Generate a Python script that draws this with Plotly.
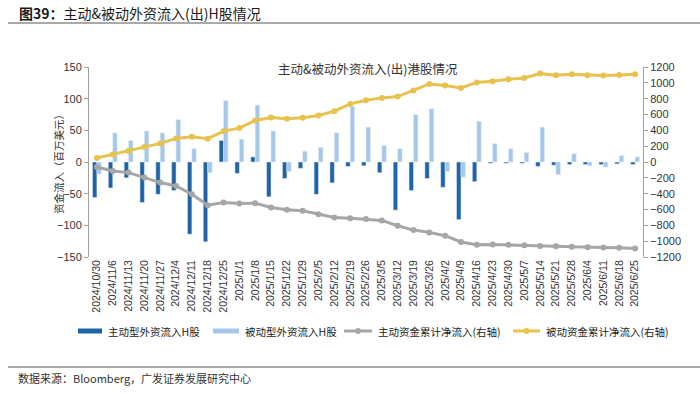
import plotly.graph_objects as go

dates = ["2024/10/30","2024/11/6","2024/11/13","2024/11/20","2024/11/27","2024/12/4","2024/12/11",
         "2024/12/18","2024/12/25","2025/1/1","2025/1/8","2025/1/15","2025/1/22","2025/1/29","2025/2/5",
         "2025/2/12","2025/2/19","2025/2/26","2025/3/5","2025/3/12","2025/3/19","2025/3/26","2025/4/2",
         "2025/4/9","2025/4/16","2025/4/23","2025/4/30","2025/5/7","2025/5/14","2025/5/21","2025/5/28",
         "2025/6/4","2025/6/11","2025/6/18","2025/6/25"]

active_flow = [-56,-41,-25,-64,-51,-45,-114,-126,34,-18,8,-55,-26,-10,-51,-33,-7,-6,-17,-76,-45,-26,-40,
               -91,-31,-2,-2,-2,-7,-5,-4,-4,-4,-3,-4]
passive_flow = [-19,46,34,49,46,67,21,-17,97,36,90,49,-15,17,23,46,88,55,26,21,75,84,-15,-24,64,29,21,15,
                55,-20,13,-6,-8,10,8]
active_cum = [-63,-113,-134,-197,-260,-302,-407,-545,-512,-524,-520,-575,-604,-617,-659,-700,-709,-721,
              -738,-805,-860,-889,-931,-1010,-1045,-1042,-1045,-1050,-1060,-1063,-1070,-1078,-1080,-1084,-1092]
passive_cum = [50,96,138,189,235,298,319,294,390,428,524,562,545,558,587,642,734,780,810,826,902,986,965,
               935,1005,1020,1045,1062,1117,1097,1109,1097,1092,1100,1109]

names = ["主动型外资流入H股", "被动型外资流入H股", "主动资金累计净流入(右轴)", "被动资金累计净流入(右轴)"]
left_ticks = [-150, -100, -50, 0, 50, 100, 150]
right_ticks = [-1200, -1000, -800, -600, -400, -200, 0, 200, 400, 600, 800, 1000, 1200]

C_DARK = "#1F64A6"
C_LIGHT = "#A4C7EA"
C_GRAY = "#A6A6A6"
C_GOLD = "#E8C24E"

W, H = 700, 394
L, R, T, B = 89, 57, 67, 137
PW, PH = W - L - R, H - T - B


def px(x):
    return (x - L) / PW


def py(y):
    return (H - B - y) / PH


fig = go.Figure()
fig.add_trace(go.Bar(x=dates, y=active_flow, name=names[0], marker_color=C_DARK, showlegend=False))
fig.add_trace(go.Bar(x=dates, y=passive_flow, name=names[1], marker_color=C_LIGHT, showlegend=False))
fig.add_trace(go.Scatter(x=dates, y=active_cum, name=names[2], yaxis="y2", mode="lines+markers",
                         line=dict(color=C_GRAY, width=3), marker=dict(size=6, color=C_GRAY),
                         showlegend=False))
fig.add_trace(go.Scatter(x=dates, y=passive_cum, name=names[3], yaxis="y2", mode="lines+markers",
                         line=dict(color=C_GOLD, width=3), marker=dict(size=6, color=C_GOLD),
                         showlegend=False))

tickfont = dict(family="Liberation Sans, Arial, sans-serif", size=11, color="#333333")
cjk = "Noto Sans CJK SC, sans-serif"

fig.update_layout(
    width=W, height=H,
    margin=dict(l=L, r=R, t=T, b=B),
    paper_bgcolor="white", plot_bgcolor="white",
    barmode="group", bargap=0.44, bargroupgap=0.0,
    xaxis=dict(type="category", tickangle=-90, tickfont=dict(family="Liberation Sans, Arial, sans-serif",
               size=10.5, color="#333333"), showline=False, showgrid=False, ticks="",
               range=[-0.5, len(dates) - 0.5], zeroline=False),
    xaxis2=dict(overlaying="x", anchor="free", position=0.5, range=[-0.5, len(dates) - 0.5],
                tickmode="linear", tick0=-0.5, dtick=1, ticks="outside", ticklen=3, tickcolor="#303030",
                showticklabels=False, showline=True, linecolor="#303030", linewidth=1, showgrid=False,
                zeroline=False),
    yaxis=dict(range=[-150, 150], tickvals=left_ticks, tickfont=tickfont, showgrid=False, zeroline=False,
               showline=True, linecolor="#A0A0A0", linewidth=1, ticks="outside", ticklen=4,
               tickcolor="#A0A0A0"),
    yaxis2=dict(range=[-1200, 1200], tickvals=right_ticks, overlaying="y", side="right", tickfont=tickfont,
                showgrid=False, zeroline=False, showline=True, linecolor="#A0A0A0", linewidth=1,
                ticks="outside", ticklen=4, tickcolor="#A0A0A0"),
    showlegend=False,
)

annotations = [
    dict(text="<b>图39：</b>主动&被动外资流入(出)H股情况", x=px(17), y=py(13), xanchor="left",
         yanchor="middle", font=dict(family=cjk, size=14, color="#1a1a1a")),
    dict(text="主动&被动外资流入(出)港股情况", x=px(368), y=py(68), xanchor="center", yanchor="middle",
         font=dict(family=cjk, size=12.5, color="#333333")),
    dict(text="资金流入（百万美元）", x=px(58), y=py(162), xanchor="center", yanchor="middle",
         textangle=-90, font=dict(family=cjk, size=10.5, color="#333333")),
    dict(text="数据来源：Bloomberg，广发证券发展研究中心", x=px(16), y=py(378), xanchor="left",
         yanchor="middle", font=dict(family=cjk, size=11, color="#333333")),
]
shapes = [
    dict(type="line", xref="paper", yref="paper", x0=px(8), x1=px(700), y0=py(23), y1=py(23),
         line=dict(color="#8C8C8C", width=1.5)),
    dict(type="line", xref="paper", yref="paper", x0=px(8), x1=px(700), y0=py(367), y1=py(367),
         line=dict(color="#8C8C8C", width=1.5)),
]

# custom legend
leg_y = 331
leg_items = [
    (78, 102, 106, "bar", C_DARK, names[0]),
    (213, 239, 243, "bar", C_LIGHT, names[1]),
    (344, 372, 376, "line", C_GRAY, names[2]),
    (513, 540, 544, "line", C_GOLD, names[3]),
]
for x0, x1, tx, kind, col, label in leg_items:
    if kind == "bar":
        shapes.append(dict(type="rect", xref="paper", yref="paper", x0=px(x0), x1=px(x1),
                           y0=py(leg_y + 2.5), y1=py(leg_y - 2.5), fillcolor=col, line=dict(width=0)))
    else:
        shapes.append(dict(type="line", xref="paper", yref="paper", x0=px(x0), x1=px(x1),
                           y0=py(leg_y), y1=py(leg_y), line=dict(color=col, width=3)))
        cx = (x0 + x1) / 2
        shapes.append(dict(type="circle", xref="paper", yref="paper", x0=px(cx - 3), x1=px(cx + 3),
                           y0=py(leg_y + 3), y1=py(leg_y - 3), fillcolor=col, line=dict(width=0)))
    annotations.append(dict(text=label, x=px(tx), y=py(leg_y), xanchor="left", yanchor="middle",
                            font=dict(family=cjk, size=10.5, color="#1a1a1a")))

for a in annotations:
    a.update(xref="paper", yref="paper", showarrow=False)
fig.update_layout(annotations=annotations, shapes=shapes)

fig.write_html("out.html", config={"displayModeBar": False},
               post_script="document.body.style.margin='0';")
